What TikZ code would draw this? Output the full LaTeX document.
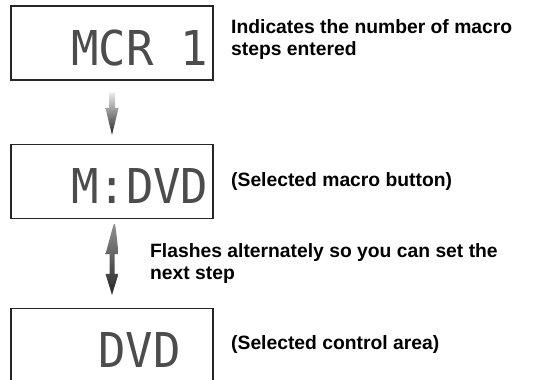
\documentclass[tikz,border=0pt]{standalone}
\usepackage{fontspec}
\setmainfont{Liberation Sans}
\newfontfamily\lcdfont[FakeStretch=0.95]{DejaVu Sans Mono}
\usetikzlibrary{positioning}
\usetikzlibrary{calc}

\begin{document}
\begin{tikzpicture}[x=1pt, y=1pt,
    lcd/.style={draw=black!85, line width=1.2pt, minimum width=202pt, minimum height=74pt, inner sep=0pt},
    lcdtext/.style={anchor=base east, inner sep=0pt, text=black!70, font=\lcdfont\fontsize{48}{48}\selectfont},
    note/.style={anchor=base west, inner sep=0pt, align=left, font=\bfseries\fontsize{19.3}{22}\selectfont}]

        \clip (0,0) rectangle (533,380);

        % the three display windows
        \node[lcd] (lcd1) at (112,337) {};
        \node[lcd] (lcd2) at (112,198.5) {};
        \node[lcd] (lcd3) at (112,34.5) {};

        \node[lcdtext] (scr1) at ($(lcd1.north east)+(-5,-60)$) {MCR 1};
        \node[lcdtext] (scr2) at ($(lcd2.north east)+(-5,-60)$) {M:DVD};
        \node[lcdtext] (scr3) at ($(lcd3.north east)+(-32.5,-60)$) {DVD};

        % notes (base = last line)
        \node[note] (txt1) at (231,324) {Indicates the number of macro\\steps entered};
        \node[note] (txt2) at (231,193) {(Selected macro button)};
        \node[note] (txt3) at (150,100) {Flashes alternately so you can set the\\next step};
        \node[note] (txt4) at (231,30) {(Selected control area)};

        % arrow between first and second window
        \coordinate (a1top) at ($(lcd1.south)+(0,-12)$);
        \coordinate (a1tip) at ($(lcd2.north)+(0,9)$);
        \shade[top color=black!8, bottom color=black!85]
          ($(a1top)+(-3,0)$) -- ($(a1tip)+(-3,27)$) -- ($(a1tip)+(-6.5,27)$)
          .. controls ($(a1tip)+(-3,12)$) .. (a1tip)
          .. controls ($(a1tip)+(3,12)$) .. ($(a1tip)+(6.5,27)$)
          -- ($(a1tip)+(3,27)$) -- ($(a1top)+(3,0)$) -- cycle;

        % double arrow between second and third window
        \coordinate (a2top) at ($(lcd2.south)+(0,-11)$);
        \coordinate (a2tip) at ($(lcd3.north)+(0,13)$);
        \shade[top color=black!40, bottom color=black!85]
          (a2top) .. controls ($(a2top)+(3,11)$) .. ($(a2top)+(6.5,-24)$)
          -- ($(a2top)+(2.5,-24)$) -- ($(a2tip)+(2.5,21)$) -- ($(a2tip)+(6.5,21)$)
          .. controls ($(a2tip)+(3,10)$) .. (a2tip)
          .. controls ($(a2tip)+(-3,10)$) .. ($(a2tip)+(-6.5,21)$)
          -- ($(a2tip)+(-2.5,21)$) -- ($(a2top)+(-2.5,-24)$) -- ($(a2top)+(-6.5,-24)$)
          .. controls ($(a2top)+(-3,-11)$) .. (a2top) -- cycle;

\end{tikzpicture}
\end{document}
